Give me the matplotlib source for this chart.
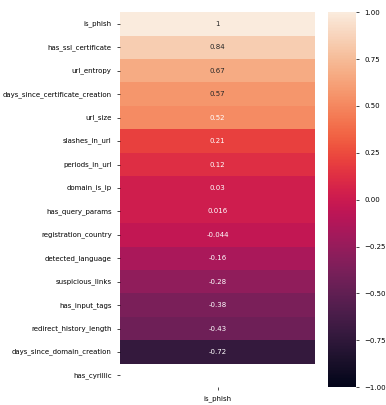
import numpy as np
import pandas as pd
import matplotlib
matplotlib.use("Agg")
import matplotlib.pyplot as plt
import seaborn as sns

features = ["is_phish", "has_ssl_certificate", "url_entropy",
            "days_since_certificate_creation", "url_size", "slashes_in_url",
            "periods_in_url", "domain_is_ip", "has_query_params",
            "registration_country", "detected_language", "suspicious_links",
            "has_input_tags", "redirect_history_length",
            "days_since_domain_creation", "has_cyrillic"]
corr_values = [1.0, 0.84, 0.67, 0.57, 0.52, 0.21, 0.12, 0.03, 0.016,
               -0.044, -0.16, -0.28, -0.38, -0.43, -0.72, np.nan]

df = pd.DataFrame({"is_phish": corr_values}, index=features)

fs = 5.0
plt.rcParams["font.size"] = fs
fig = plt.figure(figsize=(3.86, 4.05), dpi=100)
ax = fig.add_axes([0.311, 0.044, 0.505, 0.926])
cax = fig.add_axes([0.850, 0.044, 0.073, 0.926])

sns.heatmap(df, ax=ax, cbar_ax=cax, vmin=-1, vmax=1, annot=True,
            annot_kws={"fontsize": fs})
ax.tick_params(labelsize=fs, length=2.5, width=0.5)
cax.tick_params(labelsize=fs, length=2.5, width=0.5)
ax.set_yticklabels(ax.get_yticklabels(), rotation=0)

fig.savefig("out.png", dpi=100)
